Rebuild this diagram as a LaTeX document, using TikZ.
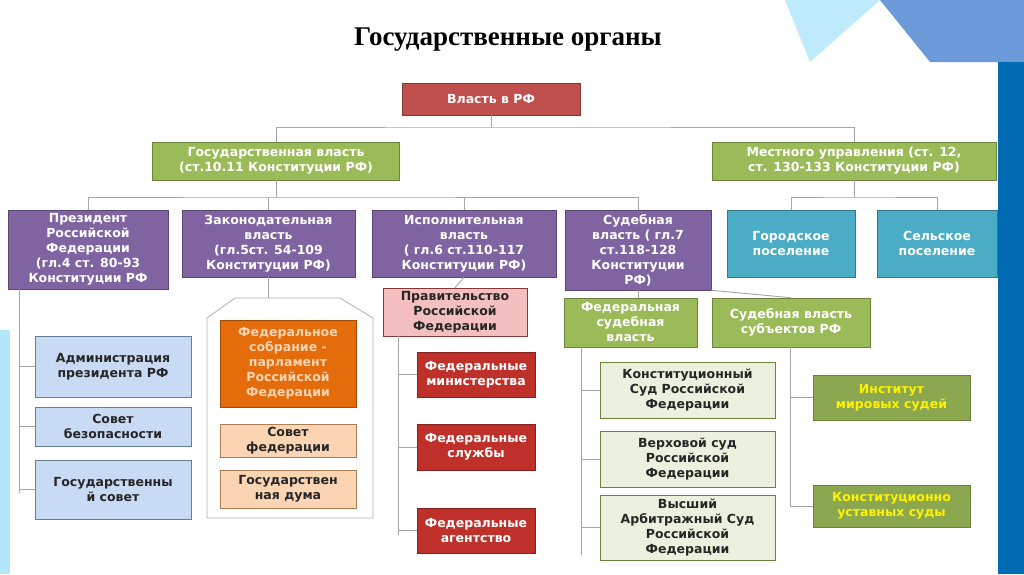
\documentclass[tikz,border=0pt]{standalone}
\usepackage{fontspec}
\setmainfont{DejaVu Sans}
\newfontfamily\titlefont{Liberation Serif}
\begin{document}
\begin{tikzpicture}[x=1pt,y=-1pt,
 bx/.style={draw=#1!70!black,line width=0.6pt,font=\bfseries\fontsize{12.5}{15}\selectfont,align=center,inner sep=1pt},
 pur/.style={bx=purp,fill=purp,text=white},
 ln/.style={draw=gray!70,line width=0.9pt}]
\definecolor{purp}{HTML}{8064A2}
\definecolor{grn}{HTML}{9BBB59}
\definecolor{teal}{HTML}{4BACC6}
\definecolor{redb}{HTML}{C0504D}
\definecolor{lblue}{HTML}{C9DAF4}
\definecolor{lbd}{HTML}{95B3D7}
\definecolor{oran}{HTML}{E46C0A}
\definecolor{lor}{HTML}{FBD4B4}
\definecolor{lord}{HTML}{F5B27A}
\definecolor{pink}{HTML}{F4BFBF}
\definecolor{dred}{HTML}{C0302B}
\definecolor{lgrn}{HTML}{EBF1DE}
\useasboundingbox (0,0) rectangle (1024,574);
\fill[white] (0,0) rectangle (1024,574);
\fill[cyan!25] (785,0) -- (880,0) -- (810,62) -- cycle;
\fill[cyan!50!blue!60] (880,0) -- (1024,0) -- (1024,62) -- (930,62) -- cycle;
\fill[blue!40!cyan!70!black] (998,62) rectangle (1024,574);
\fill[cyan!30] (0,330) rectangle (10,574);
\node[font=\titlefont\bfseries\fontsize{27}{30}\selectfont] (title) at (508,40) {Государственные органы};
% level 0
\node[bx=redb,fill=redb,text=white,minimum width=178,minimum height=32] (root) at (491,99) {Власть в РФ};
% level 1
\node[bx=grn,fill=grn,text=white,minimum width=247,minimum height=38] (gos) at (276,161) {Государственная власть\\(ст.10.11 Конституции РФ)};
\node[bx=grn,fill=grn,text=white,minimum width=284,minimum height=38] (mest) at (854,161) {Местного управления (ст. 12,\\ст. 130-133 Конституции РФ)};
\draw[ln] (root.south) -- (491,127) coordinate (h1);
\draw[ln] (gos.north) |- (h1) -| (mest.north);
% level 2
\node[pur,minimum width=160,minimum height=79] (pres) at (88,249.5) {Президент\\Российской\\Федерации\\(гл.4 ст. 80-93\\Конституции РФ};
\node[pur,minimum width=173,minimum height=67] (zak) at (268.5,243.5) {Законодательная\\власть\\(гл.5ст. 54-109\\Конституции РФ)};
\node[pur,minimum width=184,minimum height=67] (isp) at (464,243.5) {Исполнительная\\власть\\( гл.6 ст.110-117\\Конституции РФ)};
\node[pur,minimum width=146,minimum height=80] (sud) at (638,250) {Судебная\\власть ( гл.7\\ст.118-128\\Конституции\\РФ)};
\node[bx=teal,fill=teal,text=white,minimum width=128,minimum height=67] (gor) at (791,243.5) {Городское\\поселение};
\node[bx=teal,fill=teal,text=white,minimum width=120,minimum height=67] (sel) at (937,243.5) {Сельское\\поселение};
\draw[ln] (gos.south) -- (276,197) coordinate (h2);
\draw[ln] (pres.north) |- (h2) -| (sud.north);
\draw[ln] (zak.north) -- (zak.north|-h2);
\draw[ln] (isp.north) -- (isp.north|-h2);
\draw[ln] (mest.south) -- (854,197) coordinate (h3);
\draw[ln] (gor.north) |- (h3) -| (sel.north);
% president branch
\tikzset{lb/.style={bx=lbd,fill=lblue,text=black!85,minimum width=156}}
\node[lb,minimum height=61] (adm) at (113,366.5) {Администрация\\президента РФ};
\node[lb,minimum height=39] (sb) at (113,426.5) {Совет\\безопасности};
\node[lb,minimum height=59] (gs) at (113,489.5) {Государственны\\й совет};
\coordinate (pv) at (19,493);
\draw[ln] (19,289) -- (pv);
\foreach \n in {adm,sb,gs} \draw[ln] (\n.west) -- (\n.west-|pv);
% legislative
\draw[ln] (zak.south) -- (268.5,298);
\draw[draw=gray!60,line width=0.8pt] (207,318) -- (235,298) -- (340,298) -- (373,318) -- (373,518) -- (207,518) -- cycle;
\node[bx=oran,fill=oran,text=lor,minimum width=136,minimum height=87] (fs) at (288,363.5) {Федеральное\\собрание -\\парламент\\Российской\\Федерации};
\node[bx=lord,fill=lor,text=black!85,minimum width=136,minimum height=33] (sf) at (288,440.5) {Совет\\федерации};
\node[bx=lord,fill=lor,text=black!85,minimum width=136,minimum height=38] (gd) at (288,489) {Государствен\\ная дума};
% executive
\node[bx=redb,fill=pink,text=black!85,minimum width=144,minimum height=48] (prav) at (455,312) {Правительство\\Российской\\Федерации};
\draw[ln] (isp.south) -- (prav.north);
\tikzset{rb/.style={bx=dred,fill=dred,text=white,minimum width=118}}
\node[rb,minimum height=45] (min) at (476,374.5) {Федеральные\\министерства};
\node[rb,minimum height=46] (slu) at (476,447) {Федеральные\\службы};
\node[rb,minimum height=45] (agn) at (476,530.5) {Федеральные\\агентство};
\coordinate (ev) at (398,535);
\draw[ln] (398,336) -- (ev);
\foreach \n in {min,slu,agn} \draw[ln] (\n.west) -- (\n.west-|ev);
% judicial
\node[bx=grn,fill=grn,text=white,minimum width=133,minimum height=49] (fsud) at (630.5,322.5) {Федеральная\\судебная\\власть};
\node[bx=grn,fill=grn,text=white,minimum width=158,minimum height=49] (ssud) at (791,322.5) {Судебная власть\\субъектов РФ};
\draw[ln] (fsud.north-|sud.south) -- (sud.south);
\draw[ln] (sud.south east) -- (ssud.north);
\tikzset{gb/.style={bx=grn,fill=lgrn,text=black!85,minimum width=175}}
\node[gb,minimum height=56] (ks) at (687.5,390) {Конституционный\\Суд Российской\\Федерации};
\node[gb,minimum height=56] (vs) at (687.5,459) {Верховой суд\\Российской\\Федерации};
\node[gb,minimum height=65] (vas) at (687.5,527.5) {Высший\\Арбитражный Суд\\Российской\\Федерации};
\coordinate (jv) at (581,555);
\draw[ln] (581,347) -- (jv);
\foreach \n in {ks,vs,vas} \draw[ln] (\n.west) -- (\n.west-|jv);
\tikzset{yb/.style={bx=grn,fill=grn!90!black,text=yellow,minimum width=157}}
\node[yb,minimum height=45] (ins) at (891.5,397.5) {Институт\\мировых судей};
\node[yb,minimum height=42] (kus) at (891.5,506) {Конституционно\\уставных суды};
\coordinate (sv) at (790,506);
\draw[ln] (790,347) -- (sv);
\foreach \n in {ins,kus} \draw[ln] (\n.west) -- (\n.west-|sv);
\end{tikzpicture}
\end{document}
